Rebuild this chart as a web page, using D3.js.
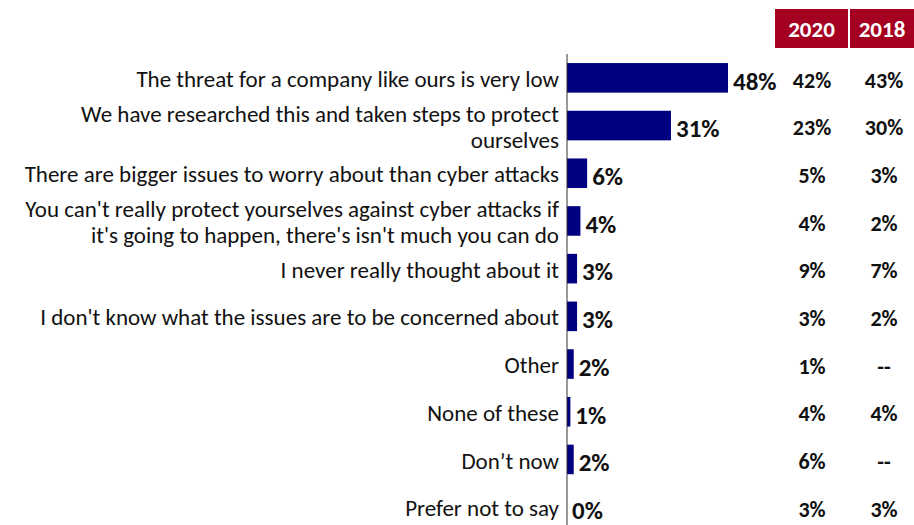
<!DOCTYPE html>
<html>
<head>
<meta charset="utf-8">
<script src="https://cdn.jsdelivr.net/npm/d3@7"></script>
<style>
  html, body { margin: 0; padding: 0; background: #fff; }
  svg { display: block; }
</style>
</head>
<body>
<svg id="chart" width="914" height="525"></svg>
<script>
// Reasons for not prioritising cyber security
const categories = [
  ["The threat for a company like ours is very low"],
  ["We have researched this and taken steps to protect", "ourselves"],
  ["There are bigger issues to worry about than cyber attacks"],
  ["You can't really protect yourselves against cyber attacks if", "it's going to happen, there's isn't much you can do"],
  ["I never really thought about it"],
  ["I don't know what the issues are to be concerned about"],
  ["Other"],
  ["None of these"],
  ["Don’t now"],
  ["Prefer not to say"]
];
const current = [48, 31, 6, 4, 3, 3, 2, 1, 2, 0];
const year2020 = ["42%", "23%", "5%", "4%", "9%", "3%", "1%", "4%", "6%", "3%"];
const year2018 = ["43%", "30%", "3%", "2%", "7%", "2%", "--", "4%", "--", "3%"];
const columnHeaders = ["2020", "2018"];

const svg = d3.select("#chart");
const font = "Carlito, Calibri, Lato, 'Open Sans', sans-serif";

const axisX = 567;
const x = d3.scaleLinear().domain([0, 48]).range([axisX, 728]);
const y = d3.scaleBand()
  .domain(d3.range(categories.length))
  .range([54, 531])
  .paddingInner(0.38)
  .paddingOuter(0.19);

// Bars
svg.append("g").selectAll("rect")
  .data(current)
  .join("rect")
  .attr("x", x(0))
  .attr("y", (d, i) => y(i))
  .attr("width", d => x(d) - x(0))
  .attr("height", y.bandwidth())
  .attr("fill", "#000080");

// Vertical axis line
svg.append("line")
  .attr("x1", axisX).attr("x2", axisX)
  .attr("y1", 54).attr("y2", 525)
  .attr("stroke", "#333").attr("stroke-width", 1);

// Category labels (wrapped labels use two lines)
const labels = svg.append("g")
  .attr("font-family", font)
  .attr("font-size", 23)
  .attr("fill", "#111")
  .attr("text-anchor", "end");

categories.forEach((lines, i) => {
  const cy = y(i) + y.bandwidth() / 2 + 1;
  const lh = 26;
  const t = labels.append("text")
    .attr("x", 559)
    .attr("y", cy - (lines.length - 1) * lh / 2);
  lines.forEach((line, j) => {
    t.append("tspan").attr("x", 559).attr("dy", j === 0 ? "0.35em" : lh).text(line);
  });
});

// Value labels next to bars
svg.append("g").selectAll("text")
  .data(current)
  .join("text")
  .attr("x", d => x(d) + 5)
  .attr("y", (d, i) => y(i) + y.bandwidth() / 2 + 3)
  .attr("dy", "0.35em")
  .attr("font-family", font)
  .attr("font-weight", "bold")
  .attr("font-size", 25)
  .attr("fill", "#111")
  .text(d => d + "%");

// Comparison columns
const colX = [812, 884];
const headerBoxes = [[775, 73], [850, 64]];
columnHeaders.forEach((h, k) => {
  svg.append("rect")
    .attr("x", headerBoxes[k][0]).attr("y", 9)
    .attr("width", headerBoxes[k][1]).attr("height", 39)
    .attr("fill", "#A50021");
  svg.append("text")
    .attr("x", headerBoxes[k][0] + headerBoxes[k][1] / 2)
    .attr("y", 29)
    .attr("dy", "0.35em")
    .attr("text-anchor", "middle")
    .attr("font-family", font)
    .attr("font-weight", "bold")
    .attr("font-size", 23)
    .attr("fill", "#fff")
    .text(h);
});

[year2020, year2018].forEach((vals, k) => {
  svg.append("g").selectAll("text")
    .data(vals)
    .join("text")
    .attr("x", colX[k])
    .attr("y", (d, i) => y(i) + y.bandwidth() / 2 + 2)
    .attr("dy", "0.35em")
    .attr("text-anchor", "middle")
    .attr("font-family", font)
    .attr("font-weight", "bold")
    .attr("font-size", 22)
    .attr("fill", "#111")
    .text(d => d);
});
</script>
</body>
</html>
